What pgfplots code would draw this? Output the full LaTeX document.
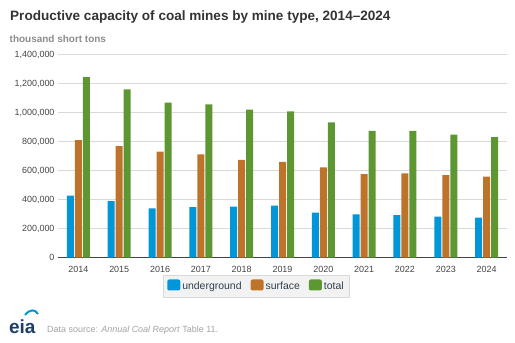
\documentclass[border=0pt]{standalone}
\usepackage{pgfplots}
\pgfplotsset{compat=1.18}
\usepackage{fontspec}
\setmainfont{Liberation Sans}
\definecolor{ug}{HTML}{0096D7}
\definecolor{sf}{HTML}{BD732A}
\definecolor{tt}{HTML}{5D9732}
\definecolor{gridc}{HTML}{D9D9D9}
\definecolor{titlec}{HTML}{333333}
\definecolor{subc}{HTML}{8C8C8C}
\definecolor{tickc}{HTML}{444444}
\definecolor{legtext}{HTML}{2F3F50}
\definecolor{eianavy}{HTML}{1D3D6B}
\begin{document}
\begin{tikzpicture}
\path[use as bounding box] (0,0) rectangle (515bp,343bp);
\node[anchor=base west, text=titlec, inner sep=0pt, font=\fontsize{13.6}{15}\selectfont\bfseries] at (10bp,322bp) {Productive capacity of coal mines by mine type, 2014--2024};
\node[anchor=base west, text=subc, inner sep=0pt, font=\fontsize{10}{12}\selectfont\bfseries] at (9.5bp,300.3bp) {thousand short tons};
\begin{axis}[
  at={(58bp,85.3bp)}, anchor=south west,
  scale only axis, width=449bp, height=203bp,
  xmin=-0.5, xmax=10.5, ymin=0, ymax=1400000,
  ybar=1bp, bar width=7bp,
  axis x line*=bottom, axis y line*=left,
  y axis line style={draw=none},
  x axis line style={draw=tickc, line width=0.8pt},
  xtick={0,...,10},
  xticklabels={2014,2015,2016,2017,2018,2019,2020,2021,2022,2023,2024},
  xtick style={draw=none},
  extra x ticks={-0.5,0.5,...,10.5},
  extra x tick labels={},
  extra x tick style={tick style={draw=tickc, line width=0.8pt}, major tick length=4bp, tick align=outside, grid=none},
  ytick={0,200000,...,1400000},
  ytick style={draw=none},
  scaled y ticks=false,
  ymajorgrids, grid style={draw=gridc, line width=0.8pt},
  yticklabel style={/pgf/number format/.cd, fixed, 1000 sep={,}, assume math mode=true},
  /pgf/number format/assume math mode=true,
  ticklabel style={font=\fontsize{9}{11}\selectfont, text=tickc},
  xticklabel style={yshift=-1bp},
  legend style={at={(0.442,-0.084)}, anchor=north, legend columns=3,
    draw=gridc, fill=black!5, inner xsep=4bp, inner ysep=4.5bp,
    font=\fontsize{10.5}{12}\selectfont, text=legtext,
    /tikz/every even column/.append style={column sep=7bp}},
  legend image code/.code={\fill[#1, rounded corners=2bp] (0bp,-4.5bp) rectangle (13bp,6.5bp);},
]
\addplot[fill=ug, draw=none] coordinates {(0,427600) (1,391000) (2,340000) (3,349000) (4,352000) (5,359000) (6,310000) (7,299000) (8,294000) (9,283000) (10,276000)};
\addplot[fill=sf, draw=none] coordinates {(0,811500) (1,770000) (2,731000) (3,713000) (4,674000) (5,660000) (6,623000) (7,577000) (8,582000) (9,570000) (10,559000)};
\addplot[fill=tt, draw=none] coordinates {(0,1246000) (1,1161000) (2,1069000) (3,1057000) (4,1021000) (5,1009000) (6,933000) (7,874000) (8,874000) (9,848000) (10,832000)};
\legend{underground, surface, total}
\end{axis}
% eia logo
\node[anchor=base west, inner sep=0pt, text=eianavy, font=\fontsize{19}{20}\selectfont\bfseries] at (9bp,9.5bp) {eia};
\draw[ug, line width=2bp] (25bp,28bp) .. controls (30bp,34bp) and (35bp,34bp) .. (38bp,29bp);
\node[anchor=base west, inner sep=0pt, text=subc!80, font=\fontsize{9}{11}\selectfont] at (47bp,10.3bp) {Data source: \textit{Annual Coal Report} Table 11.};
\end{tikzpicture}
\end{document}
